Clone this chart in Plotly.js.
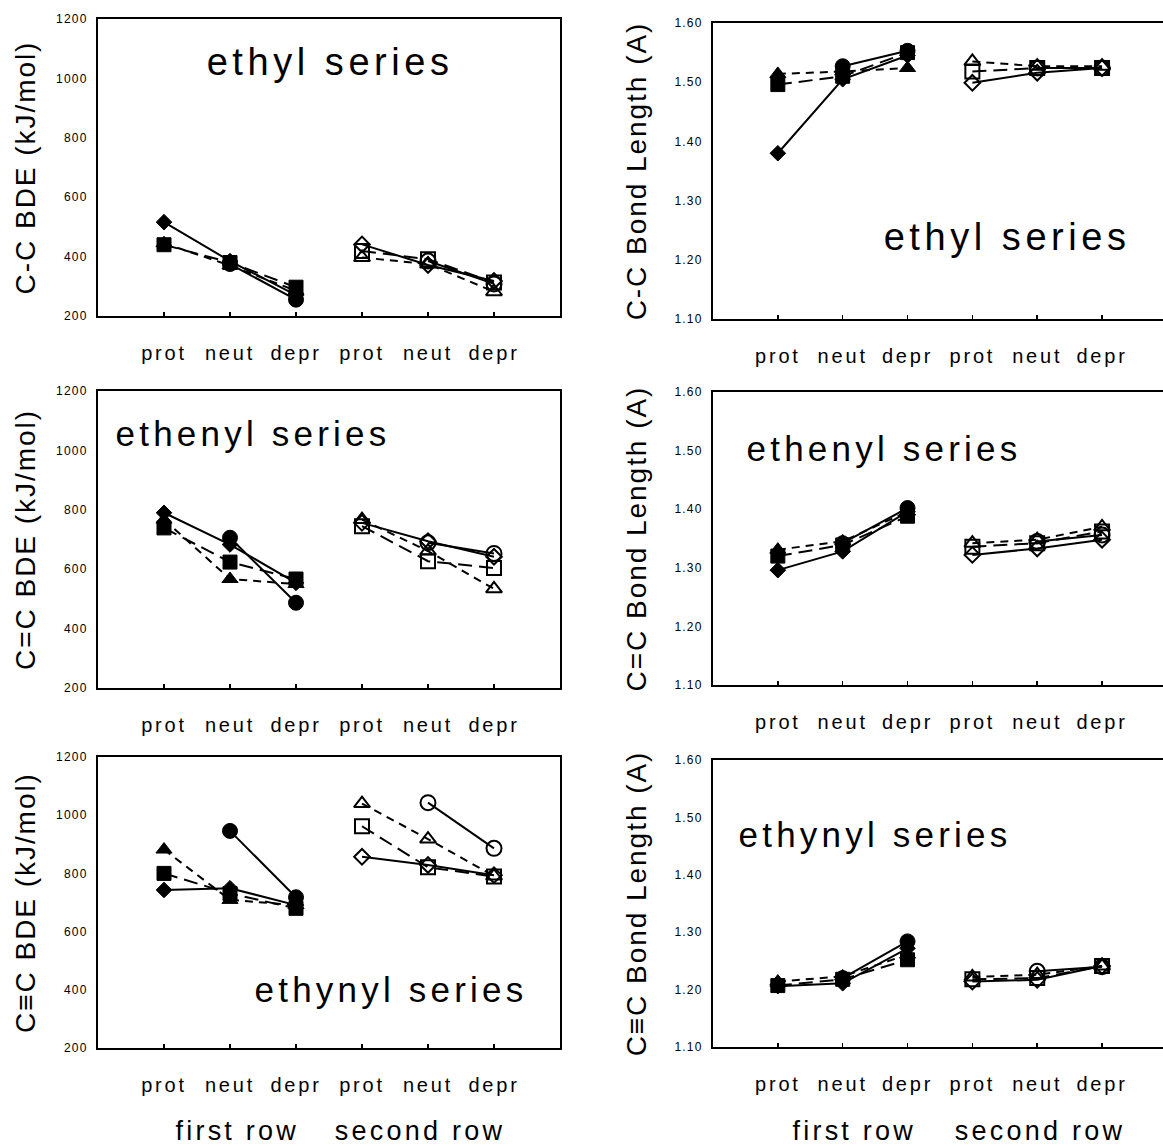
<!DOCTYPE html>
<html>
<head>
<meta charset="utf-8">
<script src="https://cdn.plot.ly/plotly-3.0.1.min.js"></script>
<style>
  html, body { margin: 0; padding: 0; background: #fff; }
  #chart { width: 1163px; height: 1146px; }
  .main-svg .xaxislayer-above text { letter-spacing: 0.14em; }
  .main-svg .yaxislayer-above text { letter-spacing: 0.1em; }
  .main-svg text[class$="title"] { letter-spacing: 0.07em; }
  .main-svg .annotation-text { letter-spacing: 0.12em; }
</style>
</head>
<body>
<div id="chart"></div>
<script>
// ---------- data ----------
const categories = ["prot", "neut", "depr", "prot", "neut", "depr"];
const groupLabels = ["first row", "second row"];
const panelTitles = ["ethyl series", "ethyl series", "ethenyl series", "ethenyl series", "ethynyl series", "ethynyl series"];
const yTitles = ["C-C BDE (kJ/mol)", "C-C Bond Length (A)", "C=C BDE (kJ/mol)", "C=C Bond Length (A)", "C\u2261C BDE (kJ/mol)", "C\u2261C Bond Length (A)"];
const bdeTicks = [200, 400, 600, 800, 1000, 1200];
const lenTicks = [1.10, 1.20, 1.30, 1.40, 1.50, 1.60];

// values: [first-row prot, neut, depr, second-row prot, neut, depr]
const ethylBDE_diamond  = [516, 385, 270, 441, 372, 318];
const ethylBDE_square   = [440, 380, 297, 419, 391, 313];
const ethylBDE_triangle = [445, 370, 285, 397, 375, 282];
const ethylBDE_circle   = [null, 375, 255, null, 385, 308];

const ethylLen_diamond  = [1.380, 1.505, 1.545, 1.499, 1.516, 1.524];
const ethylLen_square   = [1.496, 1.510, 1.550, 1.518, 1.524, 1.524];
const ethylLen_triangle = [1.514, 1.518, 1.524, 1.535, 1.527, 1.527];
const ethylLen_circle   = [null, 1.527, 1.553, null, 1.524, 1.524];

const ethenylBDE_diamond  = [790, 683, 554, 756, 694, 642];
const ethenylBDE_square   = [739, 624, 567, 745, 627, 604];
const ethenylBDE_triangle = [767, 567, 550, 767, 661, 534];
const ethenylBDE_circle   = [null, 706, 487, null, 689, 653];

const ethenylLen_diamond  = [1.296, 1.328, 1.396, 1.322, 1.333, 1.348];
const ethenylLen_square   = [1.320, 1.339, 1.388, 1.336, 1.342, 1.362];
const ethenylLen_triangle = [1.331, 1.345, 1.396, 1.342, 1.348, 1.370];
const ethenylLen_circle   = [null, 1.342, 1.402, null, 1.345, 1.356];

const ethynylBDE_diamond  = [743, 749, 691, 857, 829, 794];
const ethynylBDE_square   = [800, 731, 680, 962, 821, 789];
const ethynylBDE_triangle = [882, 709, 691, 1040, 918, 791];
const ethynylBDE_circle   = [null, 946, 718, null, 1043, 886];

const ethynylLen_diamond  = [1.206, 1.211, 1.272, 1.214, 1.217, 1.241];
const ethynylLen_square   = [1.207, 1.218, 1.252, 1.218, 1.220, 1.241];
const ethynylLen_triangle = [1.214, 1.223, 1.261, 1.222, 1.226, 1.241];
const ethynylLen_circle   = [null, 1.220, 1.284, null, 1.232, 1.240];

// ---------- build ----------
const W = 1163, H = 1146;
const FONT = "Liberation Sans, Arial, Helvetica, sans-serif";

const panelData = [
  {d: ethylBDE_diamond, s: ethylBDE_square, t: ethylBDE_triangle, c: ethylBDE_circle},
  {d: ethylLen_diamond, s: ethylLen_square, t: ethylLen_triangle, c: ethylLen_circle},
  {d: ethenylBDE_diamond, s: ethenylBDE_square, t: ethenylBDE_triangle, c: ethenylBDE_circle},
  {d: ethenylLen_diamond, s: ethenylLen_square, t: ethenylLen_triangle, c: ethenylLen_circle},
  {d: ethynylBDE_diamond, s: ethynylBDE_square, t: ethynylBDE_triangle, c: ethynylBDE_circle},
  {d: ethynylLen_diamond, s: ethynylLen_square, t: ethynylLen_triangle, c: ethynylLen_circle}
];

// pixel boxes [left, top, right, bottom]
const boxes = [
  [98, 19, 560, 316],
  [713, 23, 1163, 319],
  [98, 391, 560, 688],
  [713, 392, 1163, 685],
  [98, 757, 560, 1048],
  [713, 760, 1163, 1047]
];

const styles = {
  d: {sym: "diamond", size: 12, dash: "solid"},
  s: {sym: "square", size: 14, dash: "14px,7px"},
  t: {sym: "triangle-up", size: 14, dash: "8px,6px"},
  c: {sym: "circle", size: 15, dash: "solid"}
};

const xIdx = categories.map((_, i) => i);
const traces = [];
const layout = {
  width: W, height: H,
  margin: {l: 0, r: 0, t: 0, b: 0},
  paper_bgcolor: "#fff", plot_bgcolor: "#fff",
  showlegend: false,
  font: {family: FONT, color: "#000"},
  annotations: []
};

panelData.forEach((pd, p) => {
  const n = p + 1;
  const xa = n === 1 ? "x" : "x" + n;
  const ya = n === 1 ? "y" : "y" + n;
  ["d", "s", "t", "c"].forEach(k => {
    const st = styles[k];
    const vals = pd[k];
    // first row: filled
    traces.push({
      type: "scatter", mode: "lines+markers", xaxis: xa, yaxis: ya,
      x: xIdx.slice(0, 3), y: vals.slice(0, 3),
      line: {color: "#000", width: 2, dash: st.dash},
      marker: {symbol: st.sym, size: st.size, color: "#000", line: {color: "#000", width: 1}},
      hoverinfo: "skip"
    });
    // second row: open
    traces.push({
      type: "scatter", mode: "lines+markers", xaxis: xa, yaxis: ya,
      x: xIdx.slice(3, 6), y: vals.slice(3, 6),
      line: {color: "#000", width: 2, dash: st.dash},
      marker: {symbol: st.sym + "-open", size: st.size, color: "#000", line: {color: "#000", width: 2}},
      hoverinfo: "skip"
    });
  });

  const b = boxes[p];
  const isLeft = (p % 2 === 0);
  const xKey = n === 1 ? "xaxis" : "xaxis" + n;
  const yKey = n === 1 ? "yaxis" : "yaxis" + n;
  layout[xKey] = {
    domain: [b[0] / W, b[2] / W],
    anchor: ya,
    range: isLeft ? [-1, 6] : [-1, 5.94],
    tickmode: "array", tickvals: xIdx, ticktext: categories,
    ticks: "inside", ticklen: 4, tickwidth: 1.5, tickcolor: "#000",
    showline: true, linewidth: 2, linecolor: "#000", mirror: true,
    showgrid: false, zeroline: false,
    ticklabelstandoff: 18,
    tickfont: {family: FONT, size: 20, color: "#000"},
    fixedrange: true
  };
  layout[yKey] = {
    domain: [1 - b[3] / H, 1 - b[1] / H],
    anchor: xa,
    range: isLeft ? [200, 1200] : [1.10, 1.60],
    tickmode: "array",
    tickvals: isLeft ? bdeTicks : lenTicks,
    ticktext: isLeft ? bdeTicks.map(String) : lenTicks.map(v => v.toFixed(2)),
    ticks: "",
    showline: true, linewidth: 2, linecolor: "#000", mirror: isLeft,
    showgrid: false, zeroline: false,
    ticklabelstandoff: 6,
    tickfont: {family: FONT, size: 12, color: "#000"},
    title: {text: yTitles[p], font: {family: FONT, size: 28, color: "#000"}, standoff: isLeft ? 17 : 24},
    fixedrange: true
  };
});

// panel titles (pixel centres) and font sizes
const titlePos = [[330, 62], [1007, 237], [253, 434], [884, 449], [391, 989], [875, 834]];
const titleSize = [38, 38, 35, 35, 35, 35];
titlePos.forEach((tp, i) => {
  layout.annotations.push({
    xref: "paper", yref: "paper", x: tp[0] / W, y: 1 - tp[1] / H,
    xanchor: "center", yanchor: "middle", showarrow: false,
    text: panelTitles[i], font: {family: FONT, size: titleSize[i], color: "#000"}
  });
});
// group labels under bottom panels
const groupPos = [[[237, 1131], [420, 1131]], [[854, 1131], [1040, 1131]]];
groupPos.forEach(gp => {
  gp.forEach((pt, j) => {
    layout.annotations.push({
      xref: "paper", yref: "paper", x: pt[0] / W, y: 1 - pt[1] / H,
      xanchor: "center", yanchor: "middle", showarrow: false,
      text: groupLabels[j], font: {family: FONT, size: 27, color: "#000"}
    });
  });
});

Plotly.newPlot("chart", traces, layout, {staticPlot: true, displayModeBar: false});
</script>
</body>
</html>
